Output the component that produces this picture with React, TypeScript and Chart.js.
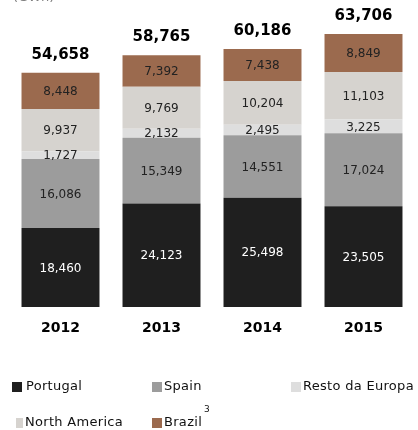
import React, { useEffect, useRef } from "react";
import { Chart, registerables } from "chart.js";

Chart.register(...registerables);

const years = ["2012", "2013", "2014", "2015"];
const portugal = [18460, 24123, 25498, 23505];
const spain = [16086, 15349, 14551, 17024];
const restoEuropa = [1727, 2132, 2495, 3225];
const northAmerica = [9937, 9769, 10204, 11103];
const brazil = [8448, 7392, 7438, 8849];
const totals = [54658, 58765, 60186, 63706];

const seriesNames = ["Portugal", "Spain", "Resto da Europa", "North America", "Brazil"];
const seriesColors = ["#1f1f1f", "#9c9c9c", "#dedede", "#d6d3cf", "#9b6a4e"];
const labelColors = ["#ffffff", "#222222", "#222222", "#222222", "#222222"];

const FONT = "'DejaVu Sans', Verdana, sans-serif";

const fmt = (v: number) => v.toLocaleString("en-US");

const overlayPlugin = {
  id: "overlay",
  afterDatasetsDraw(chart: any) {
    const ctx = chart.ctx;
    ctx.save();
    // segment labels
    chart.data.datasets.forEach((ds: any, di: number) => {
      const meta = chart.getDatasetMeta(di);
      meta.data.forEach((el: any, i: number) => {
        const v = ds.data[i];
        const yMid = (el.y + el.base) / 2;
        ctx.font = `12px ${FONT}`;
        ctx.fillStyle = labelColors[di];
        ctx.textAlign = "center";
        ctx.textBaseline = "middle";
        ctx.fillText(fmt(v), el.x, yMid + 1);
      });
    });
    // totals
    const yScale = chart.scales.y;
    const xScale = chart.scales.x;
    totals.forEach((t, i) => {
      const x = xScale.getPixelForValue(i);
      const y = yScale.getPixelForValue(t);
      ctx.font = `bold 15px ${FONT}`;
      ctx.fillStyle = "#000000";
      ctx.textAlign = "center";
      ctx.textBaseline = "middle";
      ctx.fillText(fmt(t), x, y - 18);
    });
    // unit label (cut off at top)
    ctx.font = `13px ${FONT}`;
    ctx.fillStyle = "#808080";
    ctx.textAlign = "left";
    ctx.textBaseline = "alphabetic";
    ctx.fillText("(GWh)", 13, 1);
    // legend
    const items = [
      { i: 0, bx: 12, bw: 10, tx: 26, y: 387 },
      { i: 1, bx: 152, bw: 10, tx: 164, y: 387 },
      { i: 2, bx: 291, bw: 10, tx: 303, y: 387 },
      { i: 3, bx: 16, bw: 7, tx: 25, y: 423 },
      { i: 4, bx: 152, bw: 10, tx: 164, y: 423 },
    ];
    items.forEach((it) => {
      ctx.fillStyle = seriesColors[it.i];
      ctx.fillRect(it.bx, it.y - 5, it.bw, 10);
      ctx.font = `13px ${FONT}`;
      (ctx as any).letterSpacing = "0.3px";
      ctx.fillStyle = "#111111";
      ctx.textAlign = "left";
      ctx.textBaseline = "middle";
      ctx.fillText(seriesNames[it.i], it.tx, it.y);
      if (it.i === 4) {
        const w = ctx.measureText(seriesNames[it.i]).width;
        ctx.font = `9px ${FONT}`;
        ctx.fillText("3", it.tx + w + 2, it.y - 13);
      }
      (ctx as any).letterSpacing = "0px";
    });
    ctx.restore();
  },
};

export default function App() {
  const ref = useRef<HTMLCanvasElement | null>(null);
  useEffect(() => {
    if (!ref.current) return;
    const series = [portugal, spain, restoEuropa, northAmerica, brazil];
    const chart = new Chart(ref.current, {
      type: "bar",
      data: {
        labels: years,
        datasets: series.map((d, i) => ({
          label: seriesNames[i],
          data: d,
          backgroundColor: seriesColors[i],
          borderWidth: 0,
          categoryPercentage: 1,
          barPercentage: 0.772,
        })),
      },
      options: {
        animation: false,
        responsive: false,
        maintainAspectRatio: false,
        layout: { padding: { top: 7, left: 10, right: 4, bottom: 93 } },
        plugins: {
          legend: { display: false },
          tooltip: { enabled: false },
        },
        scales: {
          x: {
            stacked: true,
            grid: { display: false, drawTicks: false },
            border: { display: false },
            ticks: {
              padding: 13,
              color: "#000000",
              font: { family: FONT, size: 14, weight: "bold" },
            },
            afterFit: (scale: any) => {
              scale.height = 30;
            },
          },
          y: {
            stacked: true,
            display: false,
            min: 0,
            max: 70000,
          },
        },
      },
      plugins: [overlayPlugin],
    });
    return () => chart.destroy();
  }, []);
  return (
    <div style={{ position: "absolute", left: 0, top: 0, width: 418, height: 430, background: "#ffffff" }}>
      <canvas ref={ref} width={418} height={430} style={{ width: 418, height: 430 }} />
    </div>
  );
}
